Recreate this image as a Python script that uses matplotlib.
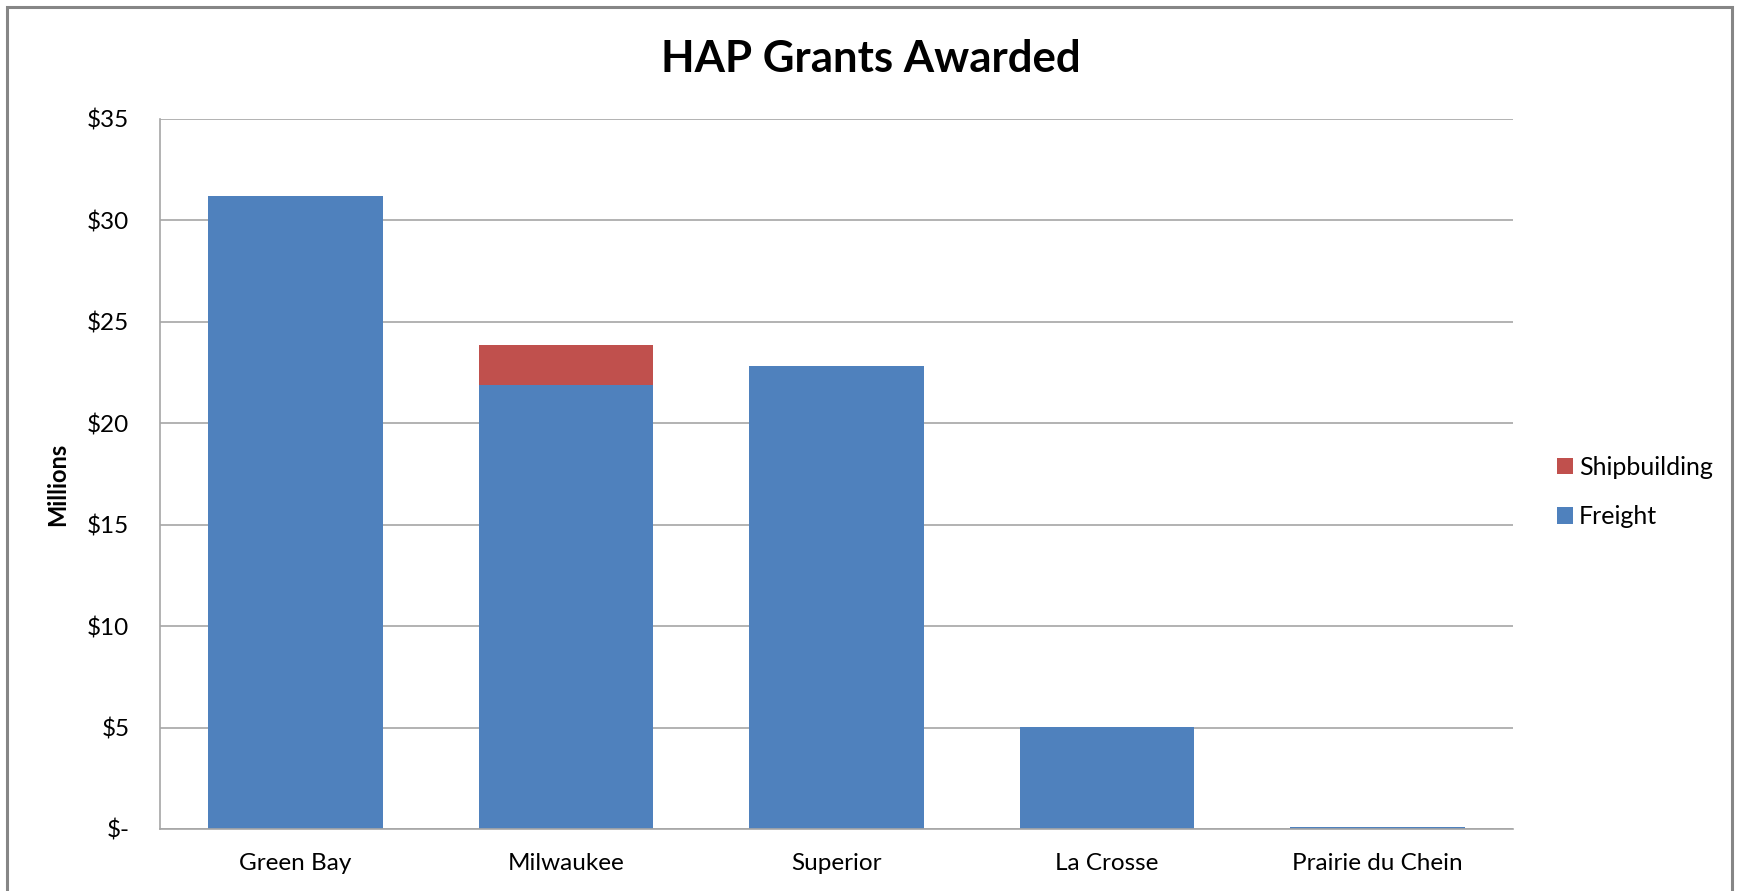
import matplotlib
matplotlib.use("Agg")
import matplotlib.pyplot as plt
from matplotlib.patches import Rectangle, Patch
from matplotlib.ticker import FuncFormatter, MultipleLocator

categories = ["Green Bay", "Milwaukee", "Superior", "La Crosse", "Prairie du Chein"]
freight = [31.2, 21.9, 22.8, 5.05, 0.1]
shipbuilding = [0.0, 1.95, 0.0, 0.0, 0.0]

title = "HAP Grants Awarded"
ylabel = "Millions"

BLUE = "#4F81BD"
RED = "#C0504D"
GRID = "#A6A6A6"

plt.rcParams['font.family'] = ['Lato', 'DejaVu Sans']

W, H = 1737, 891
fig = plt.figure(figsize=(W / 100, H / 100), dpi=100)
ax = fig.add_axes([160 / W, 1 - 829 / H, (1513 - 160) / W, (829 - 119) / H])

x = list(range(len(categories)))
bw = 0.645
ax.bar(x, freight, width=bw, color=BLUE, label="Freight", zorder=3)
ax.bar(x, shipbuilding, width=bw, bottom=freight, color=RED, label="Shipbuilding", zorder=3)

ax.set_xlim(-0.5, len(categories) - 0.5)
ax.set_ylim(0, 35)
ax.yaxis.set_major_locator(MultipleLocator(5))
ax.yaxis.set_major_formatter(FuncFormatter(lambda v, p: "$-" if v == 0 else f"${v:.0f}"))
ax.set_xticks(x)
ax.set_xticklabels(categories)

ax.grid(axis='y', color=GRID, linewidth=1.2, zorder=0)
for s in ("top", "right"):
    ax.spines[s].set_visible(False)
for s in ("left", "bottom"):
    ax.spines[s].set_color(GRID)
    ax.spines[s].set_linewidth(1.2)
    ax.spines[s].set_zorder(4)
ax.tick_params(axis='both', length=0, labelsize=17.5, colors="#000000")
ax.tick_params(axis='y', pad=22)
ax.tick_params(axis='x', pad=17)

ax.set_ylabel(ylabel, fontsize=17, fontweight='bold')
ax.yaxis.set_label_coords(-0.0672, 0.485)
fig.text(871 / W, 1 - 59 / H, title, ha='center', va='center', fontsize=31.5, fontweight='bold')

handles = [Patch(facecolor=RED, edgecolor='none'), Patch(facecolor=BLUE, edgecolor='none')]
fig.legend(handles, ["Shipbuilding", "Freight"], loc='center left',
           bbox_to_anchor=(1534 / W, 1 - 492 / H), frameon=False, fontsize=18,
           handlelength=0.65, handleheight=0.65, handletextpad=0.25, labelspacing=1.05)

fig.patches.append(Rectangle((7 / W, -0.05), (1732 - 7) / W, 1 - 7 / H + 0.05,
                             transform=fig.transFigure, fill=False,
                             edgecolor="#868686", linewidth=2.2))

fig.savefig("out.png", dpi=100, facecolor="white")
